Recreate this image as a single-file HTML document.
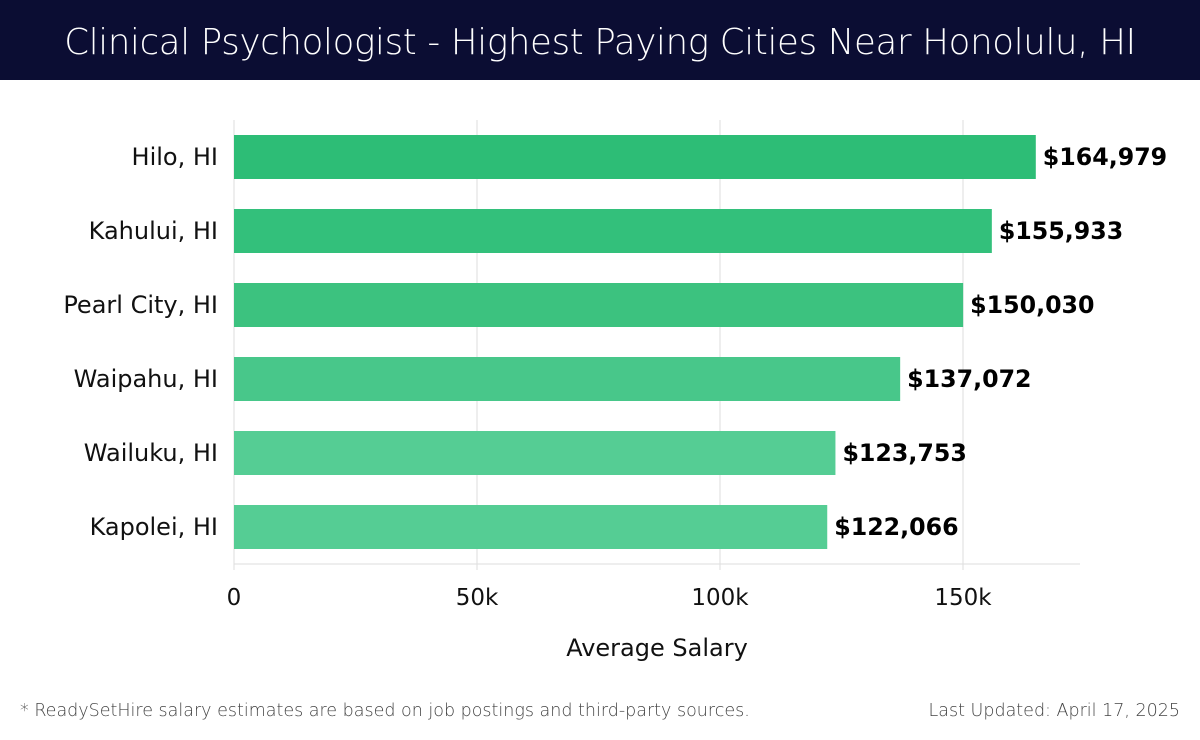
<!DOCTYPE html>
<html><head><meta charset="utf-8"><style>
body{margin:0;width:1200px;height:740px;background:#fff;font-family:"Liberation Sans","DejaVu Sans",sans-serif;overflow:hidden}
#hdr{position:absolute;left:0;top:0;width:1200px;height:80px;background:#0b0d33;color:#fff;font-size:35.5px;text-align:center;line-height:86px;font-family:"DejaVu Sans","Liberation Sans",sans-serif;font-weight:300;letter-spacing:-0.3px}
.ft{position:absolute;top:701px;font-size:17.5px;color:#444;font-family:"DejaVu Sans",sans-serif;font-weight:300}
</style></head><body>
<div id="hdr">Clinical Psychologist - Highest Paying Cities Near Honolulu, HI</div>
<svg id="chart" width="1200" height="740" style="position:absolute;left:0;top:0"></svg>
<div class="ft" style="left:20px">* ReadySetHire salary estimates are based on job postings and third-party sources.</div>
<div class="ft" style="right:20px">Last Updated: April 17, 2025</div>
<script>
const cities=["Hilo, HI","Kahului, HI","Pearl City, HI","Waipahu, HI","Wailuku, HI","Kapolei, HI"];
const salaries=[164979,155933,150030,137072,123753,122066];
const ticks=[0,50000,100000,150000];
const tickLabels=["0","50k","100k","150k"];
const colors=["#2dbd76","#33c07b","#3cc27f","#48c78a","#55cd94","#55cd94"];
const svg=document.getElementById('chart');
const NS='http://www.w3.org/2000/svg';
const x0=234,pxPer=729/150000,top0=120,step=74,barH=44;
const xs=v=>x0+v*pxPer;
const yc=i=>157+i*step;
function mk(t,a){const e=document.createElementNS(NS,t);for(const k in a)e.setAttribute(k,a[k]);svg.appendChild(e);return e;}
ticks.forEach((t,i)=>{
 const g=mk('line',{x1:xs(t),x2:xs(t),y1:top0,y2:570,stroke:'#ddd','stroke-width':1});
 
 
 const l=mk('text',{x:xs(t),y:605,'text-anchor':'middle','font-size':23,fill:'#111','font-family':'DejaVu Sans,sans-serif'});
 l.textContent=tickLabels[i];
 
 
});
const ax=mk('line',{x1:x0,x2:1080,y1:564,y2:564,stroke:'#ddd','stroke-width':1});


cities.forEach((c,i)=>{
 const r=mk('rect',{x:x0,y:yc(i)-barH/2,width:xs(salaries[i])-x0,height:barH,fill:colors[i]});
 
 
 const lb=mk('text',{x:218,y:yc(i)+8,'text-anchor':'end','font-size':24,fill:'#111','font-family':'DejaVu Sans,sans-serif'});
 lb.textContent=c;
 
 
 const v=mk('text',{x:xs(salaries[i])+7,y:yc(i)+8,'font-size':23.7,'font-weight':'bold',fill:'#000','font-family':'DejaVu Sans,sans-serif'});
 v.textContent='$'+salaries[i].toLocaleString('en-US');
 
 
});
const at=mk('text',{x:657,y:656,'text-anchor':'middle','font-size':24,fill:'#111','font-family':'DejaVu Sans,sans-serif'});
at.textContent='Average Salary';


</script>
</body></html>
